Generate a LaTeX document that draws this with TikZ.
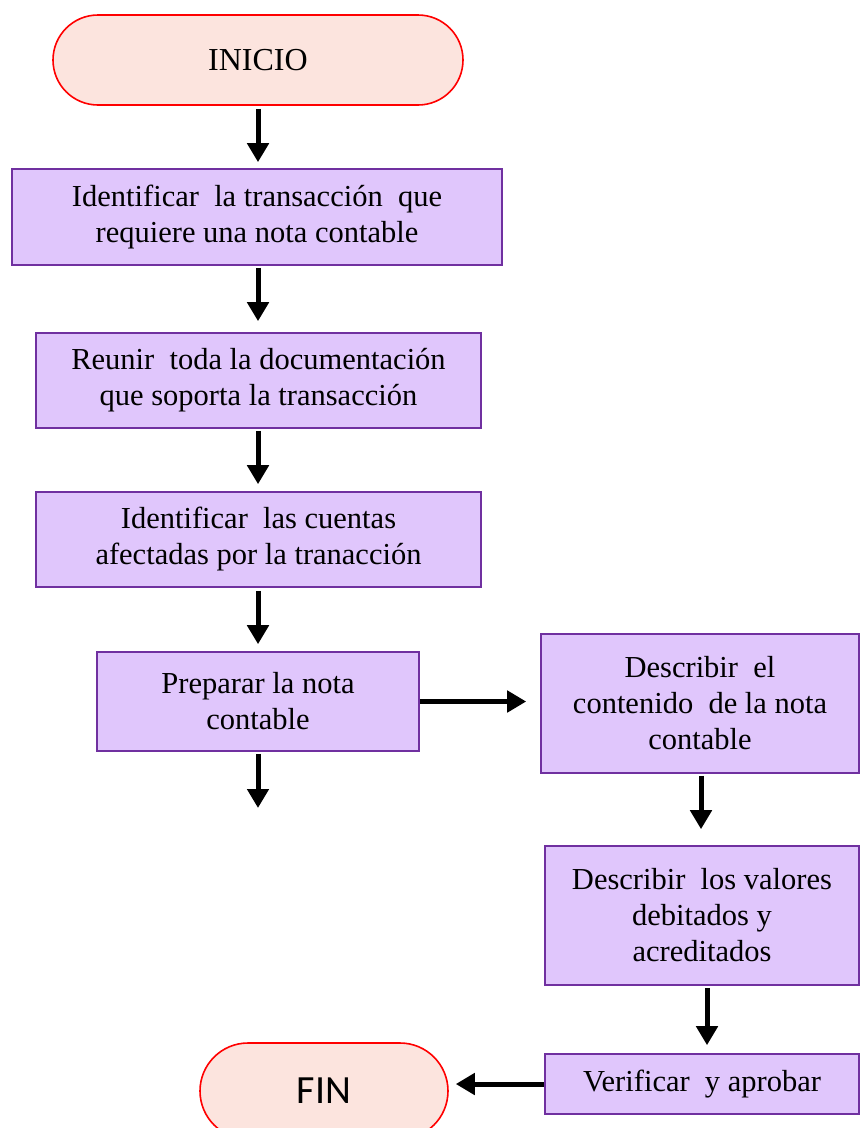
\documentclass[tikz,border=0pt]{standalone}
\usepackage{fontspec}
\setmainfont{Liberation Serif}
\newfontfamily\calib{Carlito}
\usetikzlibrary{arrows.meta}
\definecolor{boxfill}{HTML}{E0C6FC}
\definecolor{boxline}{HTML}{7030A0}
\definecolor{termfill}{HTML}{FCE4DE}
\definecolor{termline}{HTML}{FF0000}
\begin{document}
\begin{tikzpicture}[x=1pt,y=-1pt,
  stepbox/.style={draw=boxline,line width=1.6pt,fill=boxfill,inner sep=0pt,align=center,
    font=\fontsize{30.5}{36}\selectfont},
  term/.style={draw=termline,line width=1.6pt,fill=termfill,inner sep=0pt,align=center},
  arr/.style={line width=5pt,-{Triangle[length=19pt,width=21pt]}}]
\useasboundingbox (0,0) rectangle (860,1128);
\node[term,minimum width=410pt,minimum height=90pt,rounded corners=45pt,font=\fontsize{32}{38}\selectfont] (ini) at (258,60) {INICIO};
\node[stepbox,minimum width=490pt,minimum height=96pt] (b1) at (257,217) {Identificar\ \ la transacción\ \ que\\requiere una nota contable};
\node[stepbox,minimum width=445pt,minimum height=95pt] (b2) at (258.5,380.5) {Reunir\ \ toda la documentación\\que soporta la transacción};
\node[stepbox,minimum width=445pt,minimum height=95pt] (b3) at (258.5,539.5) {Identificar\ \ las cuentas\\afectadas por la tranacción};
\node[stepbox,minimum width=322pt,minimum height=99pt] (b4) at (258,701.5) {Preparar la nota\\contable};
\node[stepbox,minimum width=318pt,minimum height=139pt] (b5) at (700,703.5) {Describir\ \ el\\contenido\ \ de la nota\\contable};
\node[stepbox,minimum width=314pt,minimum height=139pt] (b6) at (702,915.5) {Describir\ \ los valores\\debitados y\\acreditados};
\node[stepbox,minimum width=314pt,minimum height=60pt] (b7) at (702,1084) {Verificar\ \ y aprobar};
\node[term,minimum width=248pt,minimum height=96pt,rounded corners=48pt,font=\calib\fontsize{40}{46}\selectfont] (fin) at (324,1091) {FIN};
\coordinate (dang) at (258,808);
\draw[arr,shorten <=3pt,shorten >=6pt] (ini.south) -- (b1.north -| ini.south);
\draw[arr,shorten <=2pt,shorten >=11pt] (b1.south -| b2.north) ++(-0.5,0) -- ([xshift=-0.5pt]b2.north);
\draw[arr,shorten <=2pt,shorten >=7pt] ([xshift=-0.5pt]b2.south) -- ([xshift=-0.5pt]b3.north);
\draw[arr,shorten <=3pt,shorten >=7pt] ([xshift=-0.5pt]b3.south) -- (b4.north);
\draw[arr,shorten <=2pt] (b4.south) -- (dang);
\draw[arr,shorten >=14pt] (b4.east) -- (b4.east -| b5.west);
\draw[arr,shorten <=2pt,shorten >=16pt] ([xshift=1pt]b5.south) -- ([xshift=1pt]b5.south |- b6.north);
\draw[arr,shorten <=2pt,shorten >=8pt] ([xshift=5pt]b6.south) -- ([xshift=5pt]b6.south |- b7.north);
\draw[arr,shorten >=7pt] (b7.west) -- (b7.west -| fin.east);
\end{tikzpicture}
\end{document}
